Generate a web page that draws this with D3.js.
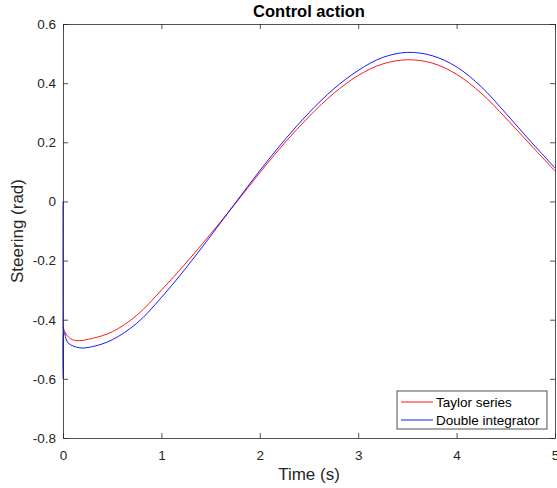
<!DOCTYPE html>
<html>
<head>
<meta charset="utf-8">
<script src="https://cdn.jsdelivr.net/npm/d3@7"></script>
<style>
  body { margin: 0; background: #fff; }
  svg { font-family: "Liberation Sans", Arial, sans-serif; }
</style>
</head>
<body>
<svg id="chart" width="557" height="488"></svg>
<script>
// values
const taylorTime = [0, 0.03, 0.08, 0.15, 0.3, 0.5, 0.75, 1.0, 1.25, 1.5, 1.75, 2.0, 2.25, 2.5, 2.75, 3.0, 3.25, 3.5, 3.75, 4.0, 4.25, 4.5, 4.75, 5.0];
const taylorSteer = [-0.425, -0.448, -0.465, -0.471, -0.463, -0.441, -0.385, -0.3, -0.208, -0.11, -0.008, 0.097, 0.197, 0.287, 0.365, 0.426, 0.465, 0.479, 0.468, 0.43, 0.366, 0.282, 0.192, 0.103];

const doubleTime = [0, 0.003, 0.012, 0.05, 0.17, 0.3, 0.5, 0.75, 1.0, 1.25, 1.5, 1.75, 2.0, 2.25, 2.5, 2.75, 3.0, 3.25, 3.5, 3.75, 4.0, 4.25, 4.5, 4.75, 5.0];
const doubleSteer = [0, -0.6, -0.443, -0.478, -0.495, -0.491, -0.468, -0.412, -0.325, -0.225, -0.117, -0.006, 0.104, 0.207, 0.3, 0.38, 0.443, 0.487, 0.504, 0.493, 0.455, 0.388, 0.298, 0.204, 0.113];

const xTicks = [0, 1, 2, 3, 4, 5];
const yTicks = [-0.8, -0.6, -0.4, -0.2, 0, 0.2, 0.4, 0.6];

const seriesNames = ["Taylor series", "Double integrator"];
const seriesColors = ["#ff0000", "#0000ff"];

// chart specs
const margin = { left: 63, right: 2, top: 24, bottom: 50 };
const svg = d3.select("#chart");
const W = 557, H = 488;
const axisColor = "#262626";

const x = d3.scaleLinear().domain([0, 5]).range([margin.left, W - margin.right]);
const y = d3.scaleLinear().domain([-0.8, 0.6]).range([H - margin.bottom, margin.top]);

// series
const series = [
  taylorTime.map((t, i) => [t, taylorSteer[i]]),
  doubleTime.map((t, i) => [t, doubleSteer[i]])
];

const line = d3.line()
  .x(d => x(d[0]))
  .y(d => y(d[1]))
  .curve(d3.curveCatmullRom.alpha(0.5));

series.forEach((s, i) => {
  svg.append("path")
    .datum(s)
    .attr("fill", "none")
    .attr("stroke", seriesColors[i])
    .attr("stroke-width", 0.9)
    .attr("d", line);
});

// axes (MATLAB box style, ticks inside, mirrored)
const tk = 5;
const fmt = d => String(+d.toFixed(1));
const gB = svg.append("g").attr("transform", `translate(0,${y(-0.8)})`)
  .call(d3.axisBottom(x).tickValues(xTicks).tickSizeInner(-tk).tickSizeOuter(0).tickPadding(12).tickFormat(fmt));
const gT = svg.append("g").attr("transform", `translate(0,${y(0.6)})`)
  .call(d3.axisTop(x).tickValues(xTicks).tickSizeInner(-tk).tickSizeOuter(0).tickFormat(""));
const gL = svg.append("g").attr("transform", `translate(${x(0)},0)`)
  .call(d3.axisLeft(y).tickValues(yTicks).tickSizeInner(-tk).tickSizeOuter(0).tickPadding(7).tickFormat(fmt));
const gR = svg.append("g").attr("transform", `translate(${x(5)},0)`)
  .call(d3.axisRight(y).tickValues(yTicks).tickSizeInner(-tk).tickSizeOuter(0).tickFormat(""));

[gB, gT, gL, gR].forEach(g => {
  g.selectAll("path, line").attr("stroke", axisColor).attr("stroke-width", 0.8);
  g.selectAll("text").attr("fill", axisColor).style("font-size", "13.5px");
});

// title and labels
svg.append("text")
  .attr("x", (x(0) + x(5)) / 2).attr("y", 17)
  .attr("text-anchor", "middle")
  .style("font-size", "16.5px").style("font-weight", "bold")
  .attr("fill", "#000")
  .text("Control action");

svg.append("text")
  .attr("x", (x(0) + x(5)) / 2).attr("y", 480)
  .attr("text-anchor", "middle")
  .style("font-size", "17px")
  .attr("fill", axisColor)
  .text("Time (s)");

svg.append("text")
  .attr("transform", `translate(23,${(y(0.6) + y(-0.8)) / 2}) rotate(-90)`)
  .attr("text-anchor", "middle")
  .style("font-size", "17px")
  .attr("fill", axisColor)
  .text("Steering (rad)");

// legend
const lg = svg.append("g").attr("transform", "translate(397,391)");
lg.append("rect")
  .attr("width", 150).attr("height", 38)
  .attr("fill", "#fff").attr("stroke", axisColor).attr("stroke-width", 0.8);
seriesNames.forEach((name, i) => {
  const yy = 11 + i * 18;
  lg.append("line")
    .attr("x1", 4).attr("x2", 36).attr("y1", yy).attr("y2", yy)
    .attr("stroke", seriesColors[i]).attr("stroke-width", 0.9);
  lg.append("text")
    .attr("x", 39).attr("y", yy + 4.5)
    .style("font-size", "13.5px")
    .attr("fill", "#000")
    .text(name);
});
</script>
</body>
</html>
